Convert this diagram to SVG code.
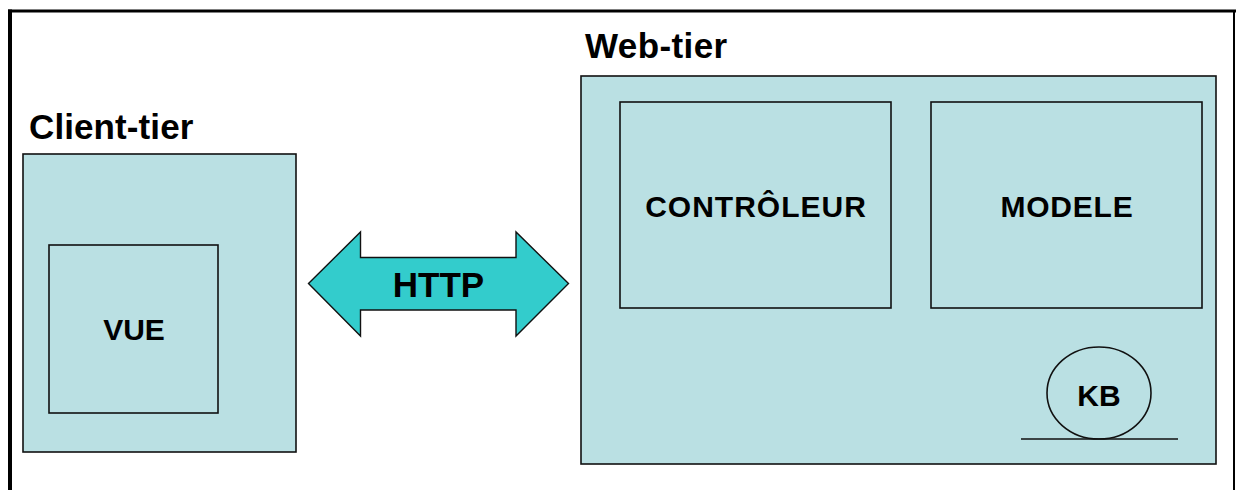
<svg xmlns="http://www.w3.org/2000/svg" width="1236" height="490" viewBox="0 0 1236 490">
<style>
.box{fill:#BAE0E3;stroke:#111;stroke-width:1.6}
.lbl{font-family:"Liberation Sans",Arial,sans-serif;font-weight:bold;font-size:30px;fill:#000;text-anchor:middle}
.title{font-family:"Liberation Sans",Arial,sans-serif;font-weight:bold;font-size:35px;fill:#000}
.frame{stroke:#000;fill:none}
</style>
<rect width="1236" height="490" fill="#fff"/>
<g id="frame">
<line class="frame" x1="8" y1="11" x2="1236" y2="11" stroke-width="3"/>
<line class="frame" x1="10" y1="9.5" x2="10" y2="490" stroke-width="4"/>
<line class="frame" x1="1234" y1="11" x2="1234" y2="490" stroke-width="2"/>
</g>
<g id="client-tier">
<text class="title" x="29" y="139" letter-spacing="0.1">Client-tier</text>
<rect class="box" x="23" y="154" width="273" height="298"/>
</g>
<g id="vue">
<rect class="box" x="49" y="245" width="169" height="168"/>
<text class="lbl" x="134" y="340">VUE</text>
</g>
<g id="web-tier">
<text class="title" x="585" y="58" letter-spacing="0.4">Web-tier</text>
<rect class="box" x="581" y="76" width="635" height="388"/>
</g>
<g id="controleur">
<rect class="box" x="620" y="102" width="271" height="206"/>
<text class="lbl" x="756" y="217" letter-spacing="1">CONTRÔLEUR</text>
</g>
<g id="modele">
<rect class="box" x="931" y="102" width="271" height="206"/>
<text class="lbl" x="1067" y="217" letter-spacing="0.8">MODELE</text>
</g>
<g id="kb">
<ellipse cx="1099" cy="393" rx="52" ry="46" fill="none" stroke="#111" stroke-width="1.6"/>
<line x1="1021" y1="439" x2="1178" y2="439" stroke="#111" stroke-width="1.6"/>
<text class="lbl" x="1099" y="405.5">KB</text>
</g>
<g id="connectors">
<path d="M308.5,283.5 L360.5,232 L360.5,257.5 L516,257.5 L516,232 L568.5,283.5 L516,336 L516,310 L360.5,310 L360.5,336 Z" fill="#33CCCC" stroke="#111" stroke-width="1.4" stroke-linejoin="miter"/>
<text class="lbl" x="438.5" y="297" style="font-size:35px">HTTP</text>
</g>
</svg>
